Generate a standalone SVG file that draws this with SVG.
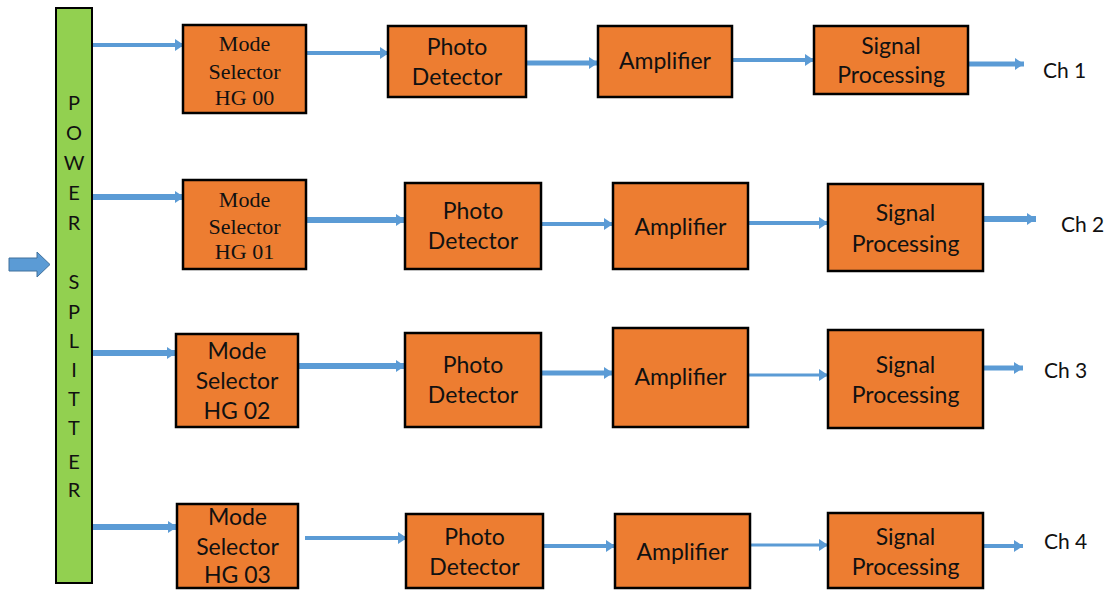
<svg xmlns="http://www.w3.org/2000/svg" width="1111" height="590" viewBox="0 0 1111 590">
<style>
.box{fill:#ED7D31;stroke:#000;stroke-width:2.5}
.spl{fill:#92D050;stroke:#000;stroke-width:2}
.t{font-family:Lato,"Open Sans","Liberation Sans",sans-serif;font-size:23px;fill:#111;text-anchor:middle}
.s{font-family:"Liberation Serif","DejaVu Serif",serif;font-size:22px;fill:#111;text-anchor:middle}
.l{font-family:Lato,"Open Sans","Liberation Sans",sans-serif;font-size:20px;fill:#111;text-anchor:middle}
.ch{font-family:Lato,"Open Sans","Liberation Sans",sans-serif;font-size:21px;fill:#111}
.a{stroke:#5B9BD5;fill:none;marker-end:url(#ah)}
.w4{stroke-width:4}
.w5{stroke-width:5}
.w6{stroke-width:6}
.w3{stroke-width:3}
</style>
<defs>
<marker id="ah" markerWidth="9" markerHeight="12" refX="9" refY="6" orient="auto" markerUnits="userSpaceOnUse">
<path d="M0,0 L9,6 L0,12 z" fill="#5B9BD5"/>
</marker>
</defs>
<rect width="1111" height="590" fill="#fff"/>

<g id="connectors">
<polygon points="9,258 37,258 37,252 50,264.5 37,277 37,271 9,271" fill="#5B9BD5" stroke="#41719C" stroke-width="1"/>
<!-- row 1 -->
<line class="a w4" x1="92" y1="45" x2="184" y2="45"/>
<line class="a w4" x1="306" y1="53" x2="389" y2="53"/>
<line class="a w5" x1="526" y1="63" x2="598" y2="63"/>
<line class="a w4" x1="732" y1="60" x2="814" y2="60"/>
<line class="a w5" x1="968" y1="64" x2="1024" y2="64"/>
<!-- row 2 -->
<line class="a w6" x1="92" y1="197" x2="184" y2="197"/>
<line class="a w6" x1="306" y1="220" x2="405" y2="220"/>
<line class="a w4" x1="541" y1="224" x2="613" y2="224"/>
<line class="a w4" x1="748" y1="223" x2="828" y2="223"/>
<line class="a w6" x1="983" y1="219" x2="1036" y2="219"/>
<!-- row 3 -->
<line class="a w6" x1="92" y1="353" x2="176" y2="353"/>
<line class="a w6" x1="298" y1="366" x2="405" y2="366"/>
<line class="a w5" x1="541" y1="373" x2="613" y2="373"/>
<line class="a w3" x1="748" y1="375" x2="828" y2="375"/>
<line class="a w5" x1="983" y1="368" x2="1023" y2="368"/>
<!-- row 4 -->
<line class="a w6" x1="92" y1="527" x2="177" y2="527"/>
<line class="a w4" x1="305" y1="538" x2="407" y2="538"/>
<line class="a w4" x1="543" y1="546" x2="615" y2="546"/>
<line class="a w3" x1="750" y1="545" x2="828" y2="545"/>
<line class="a w4" x1="983" y1="546" x2="1023" y2="546"/>
</g>

<g id="power-splitter">
<rect class="spl" x="56" y="8" width="36" height="575"/>
<text class="l" x="74" y="110">P</text>
<text class="l" x="74" y="140">O</text>
<text class="l" x="74" y="170">W</text>
<text class="l" x="74" y="200">E</text>
<text class="l" x="74" y="230">R</text>
<text class="l" x="74" y="289">S</text>
<text class="l" x="74" y="319">P</text>
<text class="l" x="74" y="348">L</text>
<text class="l" x="74" y="377">I</text>
<text class="l" x="74" y="406">T</text>
<text class="l" x="74" y="435">T</text>
<text class="l" x="74" y="469">E</text>
<text class="l" x="74" y="497">R</text>
</g>

<!-- Row 1 -->
<g id="ms0">
<rect class="box" x="183" y="25" width="123" height="88"/>
<text class="s" x="244.5" y="51">Mode</text>
<text class="s" x="244.5" y="79">Selector</text>
<text class="s" x="244.5" y="105">HG 00</text>
</g>
<g id="pd0">
<rect class="box" x="388" y="26" width="138" height="71"/>
<text class="t" x="457" y="55">Photo</text>
<text class="t" x="457" y="85">Detector</text>
</g>
<g id="amp0">
<rect class="box" x="598" y="26" width="134" height="71"/>
<text class="t" x="665" y="69">Amplifier</text>
</g>
<g id="sp0">
<rect class="box" x="814" y="26" width="154" height="68"/>
<text class="t" x="891" y="54">Signal</text>
<text class="t" x="891" y="83">Processing</text>
</g>
<g id="ch1"><text class="ch" x="1043" y="78">Ch 1</text></g>

<!-- Row 2 -->
<g id="ms1">
<rect class="box" x="183" y="180" width="123" height="89"/>
<text class="s" x="244.5" y="207">Mode</text>
<text class="s" x="244.5" y="234">Selector</text>
<text class="s" x="244.5" y="259">HG 01</text>
</g>
<g id="pd1">
<rect class="box" x="405" y="183" width="136" height="86"/>
<text class="t" x="473" y="219">Photo</text>
<text class="t" x="473" y="249">Detector</text>
</g>
<g id="amp1">
<rect class="box" x="613" y="183" width="135" height="86"/>
<text class="t" x="680.5" y="235">Amplifier</text>
</g>
<g id="sp1">
<rect class="box" x="828" y="184" width="155" height="87"/>
<text class="t" x="905.5" y="221">Signal</text>
<text class="t" x="905.5" y="252">Processing</text>
</g>
<g id="ch2"><text class="ch" x="1061" y="232">Ch 2</text></g>

<!-- Row 3 -->
<g id="ms2">
<rect class="box" x="176" y="334" width="122" height="93"/>
<text class="t" x="237" y="359">Mode</text>
<text class="t" x="237" y="389">Selector</text>
<text class="t" x="237" y="419">HG 02</text>
</g>
<g id="pd2">
<rect class="box" x="405" y="333" width="136" height="94"/>
<text class="t" x="473" y="373">Photo</text>
<text class="t" x="473" y="403">Detector</text>
</g>
<g id="amp2">
<rect class="box" x="613" y="328" width="135" height="99"/>
<text class="t" x="680.5" y="385">Amplifier</text>
</g>
<g id="sp2">
<rect class="box" x="828" y="330" width="155" height="98"/>
<text class="t" x="905.5" y="373">Signal</text>
<text class="t" x="905.5" y="403">Processing</text>
</g>
<g id="ch3"><text class="ch" x="1044" y="378">Ch 3</text></g>

<!-- Row 4 -->
<g id="ms3">
<rect class="box" x="177" y="504" width="121" height="84"/>
<text class="t" x="237.5" y="525">Mode</text>
<text class="t" x="237.5" y="555">Selector</text>
<text class="t" x="237.5" y="583">HG 03</text>
</g>
<g id="pd3">
<rect class="box" x="406" y="514" width="137" height="74"/>
<text class="t" x="474.5" y="545">Photo</text>
<text class="t" x="474.5" y="575">Detector</text>
</g>
<g id="amp3">
<rect class="box" x="615" y="514" width="135" height="74"/>
<text class="t" x="682.5" y="560">Amplifier</text>
</g>
<g id="sp3">
<rect class="box" x="828" y="513" width="155" height="75"/>
<text class="t" x="905.5" y="545">Signal</text>
<text class="t" x="905.5" y="575">Processing</text>
</g>
<g id="ch4"><text class="ch" x="1044" y="549">Ch 4</text></g>
</svg>
